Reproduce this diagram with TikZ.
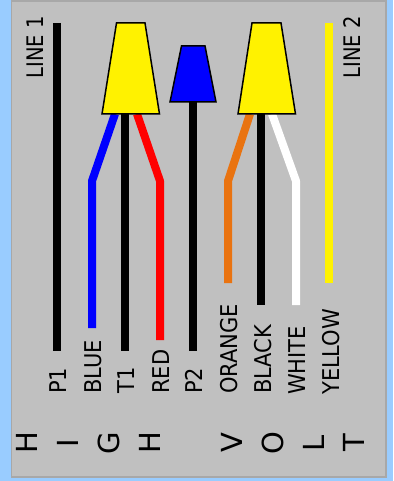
\documentclass[tikz,border=0pt]{standalone}
\usepackage{fontspec}
\setmainfont{DejaVu Sans}
\tikzset{
  wire/.style={line width=8pt, line join=bevel},
  nut/.style={draw, line width=1.5pt, line join=miter},
  lbl/.style={rotate=90, yscale=1.1, anchor=west, inner sep=0pt, font=\fontsize{21}{22}\selectfont},
  tag/.style={rotate=90, yscale=1.17, anchor=east, inner sep=0pt, font=\fontsize{19.5}{20}\selectfont},
  big/.style={rotate=90, anchor=center, inner sep=0pt, font=\fontsize{29}{30}\selectfont}
}
\definecolor{panelgray}{HTML}{C0C0C0}
\definecolor{paneledge}{HTML}{A8A8A8}
\definecolor{sky}{HTML}{99CCFF}
\definecolor{wireorange}{HTML}{E97310}
\begin{document}
\begin{tikzpicture}[x=1pt, y=-1pt]
\useasboundingbox (0, 0) rectangle (393, 481);
\fill[sky] (0, 0) rectangle (393, 481);
\draw[fill=panelgray, draw=paneledge, line width=1.5pt] (11.5, 1) rectangle (386, 477);

% top ends
\coordinate (p1a) at (57, 23);
\coordinate (t1a) at (125, 114);
\coordinate (bluea) at (115, 114);
\coordinate (reda) at (137, 114);
\coordinate (p2a) at (193, 100);
\coordinate (orangea) at (250, 114);
\coordinate (blacka) at (261, 114);
\coordinate (whitea) at (272, 114);
\coordinate (yellowa) at (329, 23);

% bends
\coordinate (blueb) at (92, 181);
\coordinate (redb) at (160, 181);
\coordinate (orangeb) at (228, 181);
\coordinate (whiteb) at (296, 181);

% bottom ends
\coordinate (p1c) at (57, 351);
\coordinate (bluec) at (92, 328);
\coordinate (t1c) at (125, 351);
\coordinate (redc) at (160, 340);
\coordinate (p2c) at (193, 351);
\coordinate (orangec) at (228, 283);
\coordinate (blackc) at (261, 305);
\coordinate (whitec) at (296, 305);
\coordinate (yellowc) at (329, 283);

\draw[wire, black] (p1a) -- (p1c);
\draw[wire, blue] (bluea) -- (blueb) -- (bluec);
\draw[wire, black] (t1a) -- (t1c);
\draw[wire, red] (reda) -- (redb) -- (redc);
\draw[wire, black] (p2a) -- (p2c);
\draw[wire, wireorange] (orangea) -- (orangeb) -- (orangec);
\draw[wire, black] (blacka) -- (blackc);
\draw[wire, white] (whitea) -- (whiteb) -- (whitec);
\draw[wire, yellow] (yellowa) -- (yellowc);

\draw[nut, fill=yellow] (116.5, 23) -- (145, 23) -- (159.5, 114) -- (102, 114) -- cycle;
\draw[nut, fill=blue] (181.5, 46) -- (205, 46) -- (216, 102) -- (170, 102) -- cycle;
\draw[nut, fill=yellow] (252, 23) -- (281, 23) -- (295.5, 114) -- (238, 114) -- cycle;

\node[tag] (line1) at (35, 16) {LINE 1};
\node[tag] (line2) at (352.5, 16) {LINE 2};

\node[lbl] (p1) at (58, 394) {P1};
\node[lbl] (bluelbl) at (93, 394) {BLUE};
\node[lbl] (t1) at (126, 394) {T1};
\node[lbl] (redlbl) at (161, 394) {RED};
\node[lbl] (p2) at (194, 394) {P2};
\node[lbl] (orangelbl) at (229, 394) {ORANGE};
\node[lbl] (blacklbl) at (263, 394) {BLACK};
\node[lbl] (whitelbl) at (297, 395) {WHITE};
\node[lbl] (yellowlbl) at (331, 395) {YELLOW};

\node[big] (h1) at (27, 443) {H};
\node[big] (i1) at (68, 443) {I};
\node[big] (g1) at (109, 443) {G};
\node[big] (h2) at (150, 443) {H};
\node[big] (v1) at (232, 443) {V};
\node[big] (o1) at (273, 443) {O};
\node[big] (l1) at (314, 443) {L};
\node[big] (t2) at (354, 443) {T};
\end{tikzpicture}
\end{document}
